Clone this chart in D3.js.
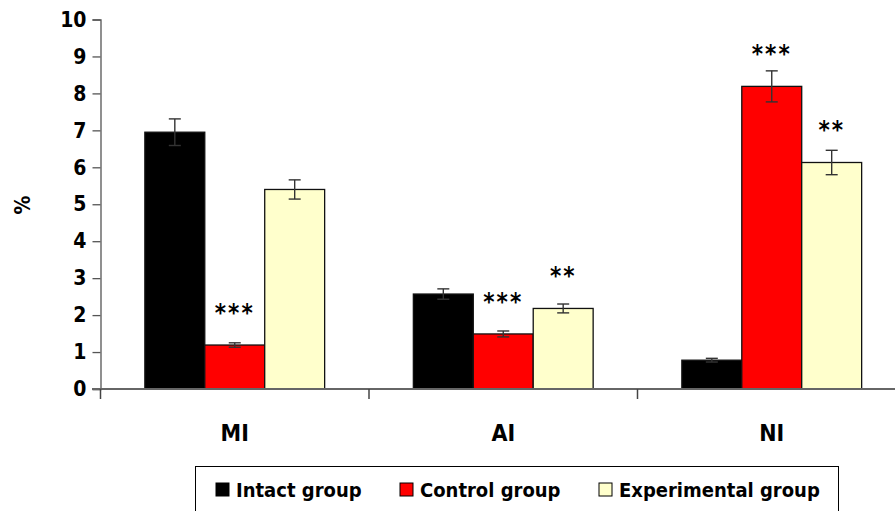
<!DOCTYPE html>
<html>
<head>
<meta charset="utf-8">
<script src="https://cdn.jsdelivr.net/npm/d3@7"></script>
<style>
  html, body { margin: 0; padding: 0; background: #fff; }
  svg text { font-family: "Liberation Sans Narrow", "Arial Narrow", "DejaVu Sans Condensed", sans-serif; font-weight: bold; }
</style>
</head>
<body>
<svg id="chart" width="895" height="511"></svg>
<script>
// ---- data ----
const categories = ["MI", "AI", "NI"];
const seriesNames = ["Intact group", "Control group", "Experimental group"];
const intactValues = [6.95, 2.57, 0.78];
const intactErrors = [0.36, 0.14, 0.05];
const controlValues = [1.19, 1.49, 8.19];
const controlErrors = [0.06, 0.08, 0.42];
const experimentalValues = [5.40, 2.18, 6.13];
const experimentalErrors = [0.26, 0.12, 0.33];
const intactMarks = ["", "", ""];
const controlMarks = ["***", "***", "***"];
const experimentalMarks = ["", "**", "**"];
// annotation heights (value units) at which the significance marks sit
const controlMarkLevels = [2.16, 2.47, 9.17];
const experimentalMarkLevels = [null, 3.17, 7.12];
const intactMarkLevels = [null, null, null];
const yTicks = [0, 1, 2, 3, 4, 5, 6, 7, 8, 9, 10];
const yLabel = "%";

const colors = ["#000000", "#FF0000", "#FFFFCC"];

const series = [
  { name: seriesNames[0], values: intactValues, errors: intactErrors, marks: intactMarks, levels: intactMarkLevels },
  { name: seriesNames[1], values: controlValues, errors: controlErrors, marks: controlMarks, levels: controlMarkLevels },
  { name: seriesNames[2], values: experimentalValues, errors: experimentalErrors, marks: experimentalMarks, levels: experimentalMarkLevels }
];

const svg = d3.select("#chart");
const x0 = d3.scaleBand().domain(categories).range([100.5, 906]).padding(0);
const x1 = d3.scaleBand().domain(seriesNames).range([0, x0.bandwidth()]).paddingInner(0).paddingOuter(0.74);
const y = d3.scaleLinear().domain([0, 10]).range([389, 19.5]);
const color = d3.scaleOrdinal().domain(seriesNames).range(colors);

// y axis
const yAxis = svg.append("g").attr("transform", "translate(100.5,0)")
  .call(d3.axisLeft(y).tickValues(yTicks).tickSize(8).tickPadding(6).tickFormat(d3.format("d")));
yAxis.select(".domain").attr("stroke", "#555").attr("stroke-width", 1.3);
yAxis.selectAll(".tick line").attr("stroke", "#555").attr("stroke-width", 1.3);
yAxis.selectAll(".tick text").attr("font-size", 21).attr("fill", "#000");

// y label
svg.append("text").attr("transform", "translate(30,205) rotate(-90)")
  .attr("text-anchor", "middle").attr("font-size", 21).attr("fill", "#000").text(yLabel);

// bars
const groups = svg.append("g").selectAll("g").data(categories).join("g")
  .attr("transform", d => `translate(${x0(d)},0)`);

series.forEach((s) => {
  groups.append("rect")
    .attr("x", (c) => x1(s.name))
    .attr("y", (c, i) => y(s.values[i]))
    .attr("width", x1.bandwidth())
    .attr("height", (c, i) => y(0) - y(s.values[i]))
    .attr("fill", color(s.name))
    .attr("stroke", "#111")
    .attr("stroke-width", 1.3);
});

// error bars
series.forEach((s) => {
  const eb = groups.append("g").attr("stroke", "#333").attr("stroke-width", 1.4);
  const cx = x1(s.name) + x1.bandwidth() / 2;
  eb.append("line").attr("x1", cx).attr("x2", cx)
    .attr("y1", (c, i) => y(s.values[i] + s.errors[i]))
    .attr("y2", (c, i) => y(s.values[i] - s.errors[i]));
  eb.append("line").attr("x1", cx - 6).attr("x2", cx + 6)
    .attr("y1", (c, i) => y(s.values[i] + s.errors[i]))
    .attr("y2", (c, i) => y(s.values[i] + s.errors[i]));
  eb.append("line").attr("x1", cx - 6).attr("x2", cx + 6)
    .attr("y1", (c, i) => y(s.values[i] - s.errors[i]))
    .attr("y2", (c, i) => y(s.values[i] - s.errors[i]));
});

// significance marks
series.forEach((s) => {
  const cx = x1(s.name) + x1.bandwidth() / 2;
  groups.append("text")
    .attr("x", cx)
    .attr("y", (c, i) => s.levels[i] == null ? 0 : y(s.levels[i]) + 12)
    .attr("text-anchor", "middle")
    .attr("font-size", 24)
    .attr("letter-spacing", 2)
    .attr("fill", "#000")
    .text((c, i) => s.marks[i]);
});

// x axis
const xAxis = svg.append("g").attr("transform", "translate(0,389)")
  .call(d3.axisBottom(x0).tickSize(0).tickPadding(36));
xAxis.select(".domain").remove();
svg.append("line").attr("x1", 92).attr("x2", 895).attr("y1", 389).attr("y2", 389)
  .attr("stroke", "#666").attr("stroke-width", 2);
const dividers = categories.slice(1).map(c => x0(c));
svg.append("g").selectAll("line").data([x0.range()[0], ...dividers]).join("line")
  .attr("x1", d => d).attr("x2", d => d).attr("y1", 389).attr("y2", 399)
  .attr("stroke", "#444").attr("stroke-width", 1.5);
xAxis.selectAll(".tick text").attr("font-size", 23).attr("fill", "#000");

// legend
const legend = svg.append("g");
legend.append("rect").attr("x", 195.5).attr("y", 466.5).attr("width", 643).attr("height", 60)
  .attr("fill", "#fff").attr("stroke", "#000").attr("stroke-width", 1);
const legendX = [216, 400, 599];
const items = legend.selectAll("g").data(series).join("g")
  .attr("transform", (d, i) => `translate(${legendX[i]},483)`);
items.append("rect").attr("width", 13).attr("height", 13)
  .attr("fill", d => color(d.name)).attr("stroke", "#000").attr("stroke-width", 1);
items.append("text").attr("x", 20).attr("y", 13.5).attr("font-size", 20).attr("fill", "#000")
  .text(d => d.name);
</script>
</body>
</html>
